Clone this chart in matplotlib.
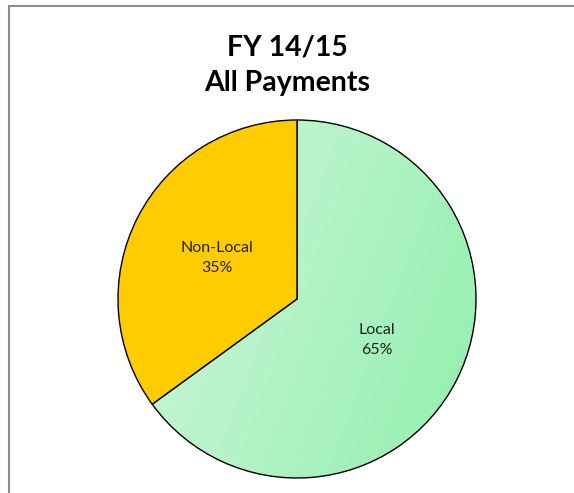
import numpy as np
import matplotlib.pyplot as plt
from matplotlib.colors import LinearSegmentedColormap

# --- datos ---
categorias = ["Local", "Non-Local"]
porcentajes = [65, 35]
titulo = "FY 14/15\nAll Payments"

plt.rcParams['font.family'] = ['Lato', 'DejaVu Sans']

fig = plt.figure(figsize=(5.74, 4.93), dpi=100)

# marco gris arriba e á esquerda
fig.add_artist(plt.Line2D([8.5/574, 8.5/574], [0, 1 - 5.5/493], transform=fig.transFigure,
                          color='#8c8c8c', lw=1.5))
fig.add_artist(plt.Line2D([8.5/574, 1], [1 - 5.5/493, 1 - 5.5/493], transform=fig.transFigure,
                          color='#8c8c8c', lw=1.5))

cx, cy, R = 297, 299, 179
ax = fig.add_axes([(cx - R)/574, (493 - cy - R)/493, 2*R/574, 2*R/493])

etiquetas = [f"{c}\n{p}%" for c, p in zip(categorias, porcentajes)]
wedges, textos = ax.pie(porcentajes, labels=etiquetas, colors=['none', '#FFCC00'],
                        startangle=90, counterclock=False, labeldistance=0.5,
                        wedgeprops=dict(edgecolor='black', linewidth=1.0),
                        textprops=dict(fontsize=11.5, color='#222222', ha='center',
                                       va='center', linespacing=1.55))
for t in textos:
    t.set_horizontalalignment('center')

# degradado verde no sector Local
cmap_verde = LinearSegmentedColormap.from_list('verde', ['#d4f7de', '#92efae'])
xx, yy = np.meshgrid(np.linspace(-1, 1, 200), np.linspace(1, -1, 200))
grad = (1.6 * xx - 0.6 * yy + 2.2) / 4.4
im = ax.imshow(grad, cmap=cmap_verde, extent=[-1, 1, -1, 1], zorder=0.5)
im.set_clip_path(wedges[0])
wedges[0].set_zorder(1)
wedges[1].set_zorder(1)
for t in textos:
    t.set_zorder(3)

ax.set_xlim(-1, 1)
ax.set_ylim(-1, 1)
ax.set_aspect('equal')
ax.axis('off')

fig.text(0.5, 1 - 65/493, titulo, ha='center', va='center', fontsize=20.5,
         fontweight='bold', linespacing=1.45)

fig.savefig('out.png', dpi=100)
